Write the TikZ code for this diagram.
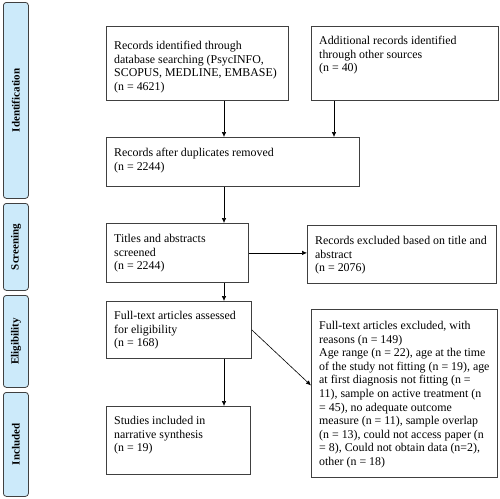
\documentclass[tikz,border=0pt]{standalone}
\usepackage{fontspec}
\setmainfont{Liberation Serif}
\usetikzlibrary{arrows.meta,calc}
\definecolor{barfill}{RGB}{204,234,250}
\definecolor{edge}{RGB}{64,64,64}
\begin{document}
\begin{tikzpicture}[x=1pt,y=-1pt,
  box/.style={draw=edge,line width=0.8pt,rectangle,inner sep=0pt,anchor=north west},
  bar/.style={draw=edge,fill=barfill,line width=0.8pt,rounded corners=3pt,inner sep=0pt,anchor=north west,minimum width=25pt},
  barlabel/.style={rotate=90,font=\fontsize{11}{13}\selectfont\bfseries,inner sep=0pt},
  txt/.style={anchor=north west,inner sep=0pt,align=left,font=\fontsize{11.9}{13.6}\selectfont},
  arr/.style={draw=black,line width=0.6pt,-{Latex[length=5pt,width=4.5pt]}}]
\useasboundingbox (0,0) rectangle (500,498);
% side bars
\node[bar,minimum height=196pt] (s1) at (3,2) {};
\node[bar,minimum height=87pt] (s2) at (3,203) {};
\node[bar,minimum height=92pt] (s3) at (3,295) {};
\node[bar,minimum height=104pt] (s4) at (3,392) {};
\node[barlabel] (l1) at (s1.center) {Identification};
\node[barlabel] (l2) at (s2.center) {Screening};
\node[barlabel] (l3) at (s3.center) {Eligibility};
\node[barlabel] (l4) at (s4.center) {Included};
% boxes
\node[box,minimum width=182pt,minimum height=74pt] (b1) at (106,26) {};
\node[box,minimum width=187pt,minimum height=74pt] (b2) at (311,26) {};
\node[box,minimum width=253pt,minimum height=49pt] (b3) at (106,137) {};
\node[box,minimum width=142pt,minimum height=59pt] (b4) at (106,223) {};
\node[box,minimum width=189pt,minimum height=58pt] (b5) at (307,225) {};
\node[box,minimum width=145pt,minimum height=57pt] (b6) at (106,301) {};
\node[box,minimum width=186pt,minimum height=168pt] (b7) at (311,309) {};
\node[box,minimum width=144pt,minimum height=68pt] (b8) at (106,406) {};
% texts
\node[txt] (t1) at ($(b1.north west)+(8,15)$) {Records identified through\\database searching (PsycINFO,\\SCOPUS, MEDLINE, EMBASE)\\(n = 4621)};
\node[txt] (t2) at ($(b2.north west)+(8,10)$) {Additional records identified\\through other sources\\(n = 40)};
\node[txt] (t3) at ($(b3.north west)+(8,11)$) {Records after duplicates removed\\(n = 2244)};
\node[txt] (t4) at ($(b4.north west)+(8,11)$) {Titles and abstracts\\screened\\(n = 2244)};
\node[txt] (t5) at ($(b5.north west)+(8,11)$) {Records excluded based on title and\\abstract\\(n = 2076)};
\node[txt] (t6) at ($(b6.north west)+(8,10)$) {Full-text articles assessed\\for eligibility\\(n = 168)};
\node[txt] (t7) at ($(b7.north west)+(8,12)$) {Full-text articles excluded, with\\reasons (n = 149)\\Age range (n = 22), age at the time\\of the study not fitting (n = 19), age\\at first diagnosis not fitting (n =\\11), sample on active treatment (n\\= 45), no adequate outcome\\measure (n = 11), sample overlap\\(n = 13), could not access paper (n\\= 8), Could not obtain data (n=2),\\other (n = 18)};
\node[txt] (t8) at ($(b8.north west)+(8,10)$) {Studies included in\\narrative synthesis\\(n = 19)};
% columns for arrows
\coordinate (c1) at (224,0);
\coordinate (c2) at (334,0);
\draw[arr] (b1.south -| c1) -- (b3.north -| c1);
\draw[arr] (b2.south -| c2) -- (b3.north -| c2);
\draw[arr] (b3.south -| c1) -- (b4.north -| c1);
\draw[arr] (b4.east) -- (b4.east -| b5.west);
\draw[arr] (b4.south -| c1) -- (b6.north -| c1);
\draw[arr] (b6.east) -- ($(b7.west)+(0,-8)$);
\draw[arr] (b6.south -| c1) -- (b8.north -| c1);
\end{tikzpicture}
\end{document}
